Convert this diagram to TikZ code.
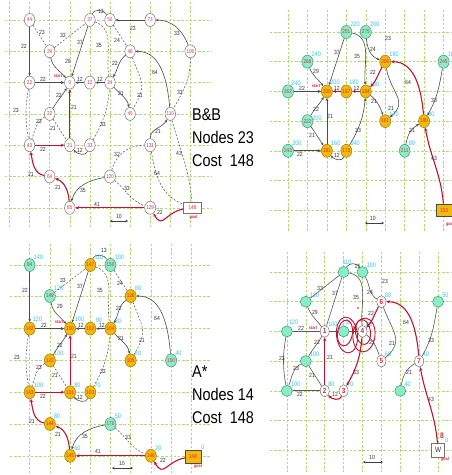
\documentclass[tikz,border=0pt]{standalone}
\usepackage{fontspec}
\usetikzlibrary{arrows.meta,shapes.geometric}
\newfontfamily\nf[FakeStretch=0.85]{Liberation Sans}
\definecolor{gridc}{HTML}{B0DC70}
\definecolor{nred}{HTML}{E02840}
\definecolor{rline}{HTML}{C41230}
\definecolor{orf}{HTML}{F2B80A}
\definecolor{orl}{HTML}{A07800}
\definecolor{grf}{HTML}{88EEC8}
\definecolor{grl}{HTML}{3C9474}
\definecolor{cyc}{HTML}{38C4F0}
\newcounter{lbc}
\newcommand\lb[3]{\stepcounter{lbc}\node[lbl] (lab\thelbc) at (#1,#2) {#3};}
\newcommand\cyl[2]{\stepcounter{lbc}\node[cy] (cyn\thelbc) at (#1.north east) {#2};}
\newcommand\cyat[3]{\stepcounter{lbc}\node[cy, anchor=center] (cyn\thelbc) at (#1,#2) {#3};}
\begin{document}
\begin{tikzpicture}[x=1pt,y=-1pt,
 gl/.style={draw=gridc, line width=0.6pt, dash pattern=on 2.4pt off 1.8pt},
 nw/.style={ellipse, draw=black!55, fill=white, line width=0.5pt, minimum width=10.5pt, minimum height=13pt, inner sep=0pt, font=\nf\fontsize{5.5}{5.5}\selectfont, text=nred},
 nor/.style={nw, fill=orf, draw=orl},
 ngr/.style={nw, fill=grf, draw=grl},
 bgn/.style={circle, fill=grf, draw=grl, line width=0.5pt, minimum size=11pt, inner sep=0pt},
 bnum/.style={nw, minimum width=9pt, minimum height=12pt, font=\nf\bfseries\fontsize{7.5}{7.5}\selectfont},
 goalw/.style={rectangle, draw=black!55, fill=white, line width=0.5pt, minimum width=18pt, minimum height=11.5pt, inner sep=0pt, font=\nf\fontsize{5.5}{5.5}\selectfont, text=nred},
 goalo/.style={goalw, fill=orf, draw=black!70, minimum width=15.5pt, minimum height=12.5pt},
 arw/.style={draw=black!70, line width=0.6pt, -{Stealth[length=3pt,width=2.6pt]}},
 pl/.style={draw=black!65, line width=0.6pt},
 plt/.style={draw=black!65, line width=1.3pt},
 dsh/.style={draw=black!60, line width=0.6pt, dash pattern=on 2pt off 1.6pt},
 rd/.style={draw=rline, line width=1.1pt, -{Stealth[length=3.6pt,width=3.2pt]}},
 thk/.style={draw=black!70, line width=1.3pt, -{Stealth[length=3.6pt,width=3.2pt]}},
 lbl/.style={font=\nf\fontsize{6}{6}\selectfont, text=black!80, inner sep=0pt},
 cy/.style={font=\nf\fontsize{6.5}{6.5}\selectfont, text=cyc, inner sep=0pt, anchor=south west},
 big/.style={font=\nf\fontsize{17}{17}\selectfont, anchor=base west, inner sep=0pt},
 tag/.style={font=\nf\bfseries\fontsize{4.5}{4.5}\selectfont, text=nred, inner sep=0pt},
 scl/.style={draw=black!75, line width=0.6pt, {Stealth[length=2.5pt,width=2.5pt]}-{Stealth[length=2.5pt,width=2.5pt]}},
 spir/.style={draw=rline, line width=0.9pt}
]
\useasboundingbox (0,0) rectangle (451,475);
\fill[white] (0,0) rectangle (451,475);
% ================= grids
\foreach \x in {9.5,29.6,49.7,69.8,89.9,110,130.1,150.2,170.3,190.4} \draw[gl] (\x,2) -- (\x,228);
\foreach \y in {20,51.3,82.6,113.9,145.2,176.5,207.8} \draw[gl] (5,\y) -- (212,\y);
\foreach \x in {288,307.4,326.9,346.3,365.8,385.2,404.7,424.1,443.6} \draw[gl] (\x,10) -- (\x,232);
\foreach \y in {32,61.7,91.4,121.1,150.8,180.5,210.2} \draw[gl] (270,\y) -- (451,\y);
\foreach \x in {29.7,49.9,70.1,90.3,110.5,130.7,150.9,171.1,191.3} \draw[gl] (\x,244) -- (\x,475);
\foreach \y in {265,296,328.6,360.4,392.2,424,455.8} \draw[gl] (10,\y) -- (210,\y);
\foreach \x in {286.9,305.8,324.7,343.6,362.5,381.4,400.3,419.2,438.1} \draw[gl] (\x,252) -- (\x,472);
\foreach \y in {272,301.7,331.4,361.1,390.8,420.5,450.2} \draw[gl] (270,\y) -- (451,\y);

% ================= TL  (B&B)
\node[nw] (a44) at (29.6,20) {44};
\node[nw] (a37) at (89.9,20) {37};
\node[nw] (a50) at (110,20) {50};
\node[nw] (a73) at (150.2,20) {73};
\node[nw] (a29) at (49.7,51.3) {29};
\node[nw] (a46) at (130.1,51.3) {46};
\node[nw] (a106) at (190.4,51.3) {106};
\node[nw] (a22a) at (29.6,82.6) {22};
\node[nw] (a0) at (69.8,82.6) {0};
\node[nw] (a12) at (89.9,82.6) {12};
\node[nw] (a24) at (110,82.6) {24};
\node[nw] (a22b) at (49.7,113.9) {22};
\node[nw] (a45) at (130.1,113.9) {45};
\node[nw] (a110) at (170.3,113.9) {110};
\node[nw] (a43) at (29.6,145.2) {43};
\node[nw] (a21) at (69.8,145.2) {21};
\node[nw] (a33) at (89.9,145.2) {33};
\node[nw] (a131) at (150.2,145.2) {131};
\node[nw] (a64) at (49.7,176.5) {64};
\node[nw] (a120) at (110,176.5) {120};
\node[nw] (a85) at (69.8,207.8) {85};
\node[nw] (a129) at (150.2,207.8) {129};
\node[goalw] (a148) at (192.5,207.5) {148};
\node[tag] (ast) at (58,76.5) {start};
\node[tag] (agl) at (193.5,217.5) {goal};

\draw[arw] (a44) -- (a22a); \lb{24}{46}{22}
\draw[dsh] (a44) -- (a29); \lb{42}{32}{23}
\draw[dsh] (a29) -- (a37); \lb{63}{35}{33}
\draw[arw] (a37) -- (a0); \lb{80}{42}{37}
\draw[pl] (a37) to[out=70,in=120] (a50); \lb{101}{11}{13}
\draw[dsh] (a37) to[out=-20,in=100] (a24); \lb{99}{45}{35}
\draw[arw] (a29) to[out=-80,in=130] (a0); \lb{68}{61}{29}
\draw[thk] (a22a) -- (a0); \lb{43}{79}{22}
\draw[arw] (a12) -- (a0); \lb{80}{79}{12}
\draw[arw] (a24) -- (a12); \lb{100}{79}{12}
\draw[arw] (a73) -- (a50); \lb{133}{28}{23}
\draw[arw] (a106) to[out=110,in=0] (a73); \lb{177}{33}{33}
\draw[dsh] (a50) -- (a46); \lb{117}{40}{24}
\draw[arw] (a46) to[out=-140,in=60] (a24); \lb{115}{63}{22}
\draw[arw] (a110) to[out=95,in=0] (a46); \lb{155}{72}{64}
\draw[arw] (a24) to[out=-50,in=100] (a45); \lb{121}{93}{21}
\draw[dsh] (a46) to[out=-70,in=60,looseness=1.4] (a45); \lb{140}{95}{21}
\draw[dsh] (a106) to[out=-90,in=60] (a110); \lb{180}{92}{33}
\draw[dsh] (a22a) to[out=-100,in=100] (a43); \lb{16}{110}{23}
\draw[dsh] (a22b) to[out=-150,in=70] (a43); \lb{39}{121}{23}
\draw[arw] (a22b) to[out=60,in=-120] (a0); \lb{59}{95}{22}
\draw[rd] (a21) -- (a0); \lb{74}{107}{21}
\draw[dsh] (a22b) -- (a21); \lb{53}{128}{21}
\draw[rd] (a43) -- (a21); \lb{43}{149}{22}
\draw[arw] (a33) to[out=-110,in=-50] (a21); \lb{80}{150}{12}
\draw[dsh] (a33) to[out=60,in=-95] (a24); \lb{103}{124}{33}
\draw[rd] (a64) to[out=170,in=-80] (a43); \lb{31}{174}{21}
\draw[rd] (a85) to[out=95,in=-20] (a64); \lb{58}{187}{21}
\draw[arw] (a120) to[out=190,in=75] (a85); \lb{83}{190}{35}
\draw[rd] (a129) -- (a85); \lb{97}{204}{41}
\draw[dsh] (a120) to[out=75,in=180] (a131); \lb{117}{154}{32}
\draw[arw] (a131) to[out=90,in=-120] (a110); \lb{158}{131}{21}
\draw[dsh] (a131) to[out=-80,in=160] (a148); \lb{157}{173}{64}
\draw[dsh] (a110) to[out=-75,in=95] (a148); \lb{179}{153}{43}
\draw[dsh] (a120) to[out=-40,in=160] (a129); \lb{127}{188}{33}
\draw[rd] (a148) to[out=190,in=-60,looseness=1.6] (a129); \lb{160}{212}{22}
\coordinate (s1a) at (110,221); \coordinate (s1b) at (128,221);
\draw[scl] (s1a) -- (s1b); \lb{119}{216.5}{10}
\node[big] (t1) at (192,120) {B\&B};
\node[big] (t2) at (192,143) {Nodes 23};
\node[big] (t3) at (192,166) {Cost \ 148};

% ================= TR
\node[ngr] (b25) at (346.3,32) {251}; \cyl{b25}{220}
\node[ngr] (b275) at (365.8,32) {275}; \cyl{b275}{200}
\node[ngr] (b268) at (307.4,61.7) {268}; \cyl{b268}{240}
\node[nor] (b209) at (385.2,61.7) {209}; \cyl{b209}{180}
\node[ngr] (b245) at (443.6,61.7) {245}; \cyl{b245}{100}
\node[ngr] (b262) at (288,91.4) {262}; \cyat{296}{83.5}{240}
\node[nor] (b200) at (326.9,91.4) {200}; \cyat{335}{82.5}{200}
\node[nor] (b187) at (346.3,91.4) {187}; \cyat{354}{82.5}{180}
\node[nor] (b184) at (365.8,91.4) {184}; \cyl{b184}{160}
\node[ngr] (b222) at (307.4,121.1) {222}; \cyat{317}{118.5}{200}
\node[nor] (b161) at (385.2,121.1) {161}; \cyl{b161}{170}
\node[nor] (b190) at (424.1,121.1) {190}; \cyl{b190}{80}
\node[ngr] (b243) at (288,150.8) {243}; \cyl{b243}{200}
\node[nor] (b181) at (326.9,150.8) {181}; \cyl{b181}{160}
\node[nor] (b173) at (346.3,150.8) {173}; \cyl{b173}{140}
\node[ngr] (b211) at (404.7,150.8) {211}; \cyl{b211}{80}
\node[goalo] (b153) at (444,210.2) {153};
\node[tag] (bst) at (316,86) {start};
\node[tag] (bgl) at (450,224.5) {goal};

\draw[thk] (b262) -- (b200); \lb{302}{88}{22}
\draw[arw] (b268) to[out=-70,in=125] (b200); \lb{316}{71}{29}
\draw[arw] (b25) -- (b200); \lb{337}{52}{37}
\draw[arw] (b25) to[out=-10,in=95] (b184); \lb{357}{56}{35}
\draw[arw] (b275) to[out=-85,in=160] (b209); \lb{373}{49}{24}
\lb{388}{38}{23}
\draw[rd] (b209) to[out=-120,in=45] (b184); \lb{373}{72}{22}
\draw[rd] (b190) to[out=95,in=0] (b209); \lb{408}{82}{64}
\draw[rd] (b187) -- (b200); \lb{337}{88}{12}
\draw[rd] (b184) -- (b187); \lb{356.5}{88}{12}
\draw[arw] (b222) to[out=60,in=-120] (b200); \lb{316}{109.5}{22}
\draw[arw] (b181) -- (b200); \lb{330}{116}{21}
\draw[arw] (b222) -- (b181); \lb{312}{135}{21}
\draw[thk] (b243) -- (b181); \lb{300}{154.5}{22}
\draw[arw] (b173) to[out=-110,in=-50] (b181); \lb{337}{155}{12}
\draw[arw] (b173) to[out=60,in=-95] (b184); \lb{358}{130}{33}
\draw[arw] (b184) to[out=-40,in=110] (b161); \lb{374}{101}{21}
\draw[arw] (b209) to[out=-80,in=40,looseness=1.3] (b161); \lb{391}{108}{21}
\draw[arw] (b245) to[out=-100,in=60] (b190); \lb{434}{100}{33}
\draw[arw] (b211) to[out=80,in=-150] (b190); \lb{412}{130}{21}
\draw[rd] (b153) to[out=95,in=-80] (b190); \lb{434}{158}{43}
\coordinate (s2a) at (365,223); \coordinate (s2b) at (384,223);
\draw[scl] (s2a) -- (s2b); \lb{373}{218.5}{10}

% ================= BL (A*)
\node[ngr] (c84) at (29.7,265) {84}; \cyl{c84}{140}
\node[nor] (c147) at (90.3,265) {147}; \cyl{c147}{110}
\node[ngr] (c150) at (110.5,265) {150}; \cyl{c150}{100}
\node[ngr] (c149) at (49.9,296) {149}; \cyl{c149}{120}
\node[nor] (c126) at (130.7,296) {126}; \cyl{c126}{80}
\node[nor] (c142) at (29.7,328.6) {142}; \cyat{37.5}{319.5}{120}
\node[nor] (c100) at (70.1,328.6) {100}; \cyat{79.5}{319.5}{100}
\node[nor] (c102) at (90.3,328.6) {102}; \cyat{99}{320}{90}
\node[nor] (c104) at (110.5,328.6) {104}; \cyl{c104}{80}
\node[nor] (c122) at (49.9,360.4) {122}; \cyl{c122}{100}
\node[nor] (c105) at (130.7,360.4) {105}; \cyl{c105}{60}
\node[ngr] (c150g) at (171.1,360.4) {150}; \cyl{c150g}{40}
\node[nor] (c143) at (29.7,392.2) {143}; \cyl{c143}{100}
\node[nor] (c101) at (70.1,392.2) {101}; \cyl{c101}{80}
\node[nor] (c103) at (90.3,392.2) {103}; \cyl{c103}{70}
\node[nor] (c144) at (49.9,424) {144}; \cyl{c144}{80}
\node[ngr] (c170) at (110.5,424) {170}; \cyl{c170}{50}
\node[nor] (c145) at (70.1,455.8) {145}; \cyl{c145}{60}
\node[nor] (c146) at (150.9,455.8) {146}; \cyl{c146}{20}
\node[goalo] (c148) at (193,456.5) {148}; \cyl{c148}{0}
\node[tag] (cst) at (59,322) {start};
\node[tag] (cgl) at (198,466.5) {goal};

\draw[arw] (c84) -- (c142); \lb{25}{290}{22}
\draw[dsh] (c149) -- (c147); \lb{63}{280}{33}
\draw[arw] (c147) -- (c100); \lb{80}{286}{37}
\draw[pl] (c147) to[out=70,in=120] (c150); \lb{104}{250}{13}
\draw[dsh] (c147) to[out=-20,in=100] (c104); \lb{100}{290}{35}
\draw[arw] (c149) to[out=-80,in=130] (c100); \lb{60}{306}{29}
\draw[thk] (c142) -- (c100); \lb{44}{325.5}{22}
\draw[arw] (c102) -- (c100); \lb{81}{325.5}{12}
\draw[arw] (c104) -- (c102); \lb{102}{325.5}{12}
\draw[dsh] (c150) -- (c126); \lb{120}{283}{24}
\draw[arw] (c126) to[out=-140,in=60] (c104); \lb{119}{308}{22}
\draw[arw] (c150g) to[out=95,in=0] (c126); \lb{157}{318}{64}
\draw[arw] (c104) to[out=-50,in=100] (c105); \lb{121}{338}{21}
\draw[dsh] (c126) to[out=-70,in=60,looseness=1.4] (c105); \lb{142}{340}{21}
\draw[dsh] (c142) to[out=-100,in=100] (c143); \lb{17}{357}{23}
\draw[dsh] (c122) to[out=-150,in=70] (c143); \lb{39}{367}{23}
\draw[arw] (c122) to[out=60,in=-120] (c100); \lb{60}{345}{22}
\draw[rd] (c101) -- (c100); \lb{74}{356}{21}
\draw[dsh] (c122) -- (c101); \lb{55}{375}{21}
\draw[rd] (c143) -- (c101); \lb{43}{396}{22}
\draw[arw] (c103) to[out=-110,in=-50] (c101); \lb{80}{397}{12}
\draw[dsh] (c103) to[out=60,in=-95] (c104); \lb{103}{371}{33}
\draw[rd] (c144) to[out=170,in=-80] (c143); \lb{32}{421}{21}
\draw[rd] (c145) to[out=95,in=-20] (c144); \lb{58}{434}{21}
\draw[arw] (c170) to[out=190,in=75] (c145); \lb{85}{436}{35}
\draw[rd] (c146) -- (c145); \lb{98}{451}{41}
\draw[dsh] (c170) to[out=-40,in=160] (c146); \lb{128}{437}{33}
\draw[rd] (c148) to[out=190,in=-60,looseness=1.6] (c146); \lb{163}{460}{22}
\coordinate (s3a) at (112,468); \coordinate (s3b) at (133,468);
\draw[scl] (s3a) -- (s3b); \lb{122}{463.5}{10}
\node[big] (t4) at (192,377) {A*};
\node[big] (t5) at (192,400) {Nodes 14};
\node[big] (t6) at (192,423) {Cost \ 148};

% ================= BR
\node[bgn] (d37) at (343.6,272) {}; \cyat{347}{262}{110}
\node[bgn] (d50) at (362.5,272) {}; \cyl{d50}{100}
\node[bgn] (d29) at (305.8,301.7) {}; \cyl{d29}{120}
\node[bnum] (d6) at (381.4,301.7) {6}; \cyl{d6}{80}
\node[bgn] (d106) at (438.1,301.7) {}; \cyl{d106}{50}
\node[bgn] (d22a) at (286.9,331.4) {}; \cyat{293.5}{322.5}{120}
\node[bnum] (d1) at (324.7,331.4) {1}; \cyl{d1}{100}
\node[bgn] (d12) at (343.6,331.4) {}; \cyat{349}{322}{90}
\node[bnum] (d4) at (362.5,331.4) {4}; \cyl{d4}{80}
\node[bgn] (d22b) at (305.8,361.1) {}; \cyl{d22b}{100}
\node[bnum] (d5) at (381.4,361.1) {5}; \cyl{d5}{60}
\node[bnum] (d7) at (419.2,361.1) {7}; \cyl{d7}{40}
\node[bgn] (d43) at (286.9,390.8) {}; \cyl{d43}{100}
\node[bnum] (d2) at (324.7,390.8) {2}; \cyl{d2}{80}
\node[bnum] (d3) at (343.6,390.8) {3}; \cyl{d3}{70}
\node[bgn] (d131) at (400.3,390.8) {}; \cyl{d131}{40}
\node[goalw, minimum width=13pt, minimum height=14pt, text=black!80, font=\nf\fontsize{7.5}{7.5}\selectfont] (dW) at (438.1,450.2) {W}; \cyl{dW}{0}
\node[tag] (dst) at (313,328) {start};
\node[tag] (dgl) at (445,459.5) {goal};
\node[font=\nf\bfseries\fontsize{8}{8}\selectfont, text=nred, inner sep=0pt] (d8) at (442,436) {8};

\draw[pl] (d29) -- (d37); \lb{320}{288}{33}
\draw[pl] (d37) to[out=60,in=120] (d50); \lb{357.5}{266}{15}
\draw[pl] (d37) -- (d1); \lb{335}{293}{37}
\draw[pl] (d37) to[out=-10,in=95] (d4); \lb{356}{297}{35}
\draw[pl] (d50) to[out=-60,in=150] (d6); \lb{370}{292}{24}
\lb{385}{281}{23}
\draw[pl] (d29) to[out=-70,in=125] (d1); \lb{315}{312}{29}
\draw[plt] (d22a) -- (d1); \lb{301}{328.5}{22}
\draw[pl] (d1) -- (d12);
\draw[pl] (d12) -- (d4); \lb{355}{328.5}{12}
\draw[rd] (d6) to[out=-120,in=45] (d4); \lb{371}{313}{22}
\draw[rd] (d7) to[out=95,in=0] (d6); \lb{406}{322}{64}
\draw[pl] (d106) to[out=-100,in=60] (d7); \lb{431}{340}{33}
\draw[pl] (d6) to[out=-70,in=40,looseness=1.3] (d5); \lb{392}{343}{21}
\draw[pl] (d4) to[out=-40,in=110] (d5); \lb{372}{342}{21}
\draw[pl] (d22a) to[out=-100,in=100] (d43); \lb{282}{358}{23}
\draw[pl] (d22b) to[out=-150,in=70] (d43); \lb{296}{368}{23}
\draw[pl] (d22b) to[out=60,in=-120] (d1); \lb{317}{342}{22}
\draw[rd] (d2) -- (d1); \lb{330}{357}{21}
\draw[pl] (d22b) -- (d2); \lb{312}{375}{21}
\draw[plt] (d43) -- (d2); \lb{300}{394}{22}
\draw[rd] (d3) to[out=-110,in=-50] (d2); \lb{335}{394}{12}
\draw[rd] (d4) to[out=-95,in=60] (d3); \lb{356}{372}{33}
\draw[pl] (d131) to[out=80,in=-150] (d7); \lb{409}{372}{21}
\draw[rd] (dW) to[out=95,in=-80] (d7); \lb{431}{399}{43}
\draw[spir, rotate around={-8:(345,333)}] (345,333) ellipse [x radius=7.5, y radius=13];
\draw[spir, rotate around={6:(347,335)}] (347,335) ellipse [x radius=10.5, y radius=18];
\draw[spir, rotate around={8:(363,332)}] (363,332) ellipse [x radius=7.5, y radius=12.5];
\draw[spir, rotate around={-6:(364,335)}] (364,335) ellipse [x radius=11, y radius=17];
\fill[rline] (358,308) circle (0.9);
\coordinate (s4a) at (363,462); \coordinate (s4b) at (383,462);
\draw[scl] (s4a) -- (s4b); \lb{372}{457.5}{10}
\end{tikzpicture}
\end{document}
